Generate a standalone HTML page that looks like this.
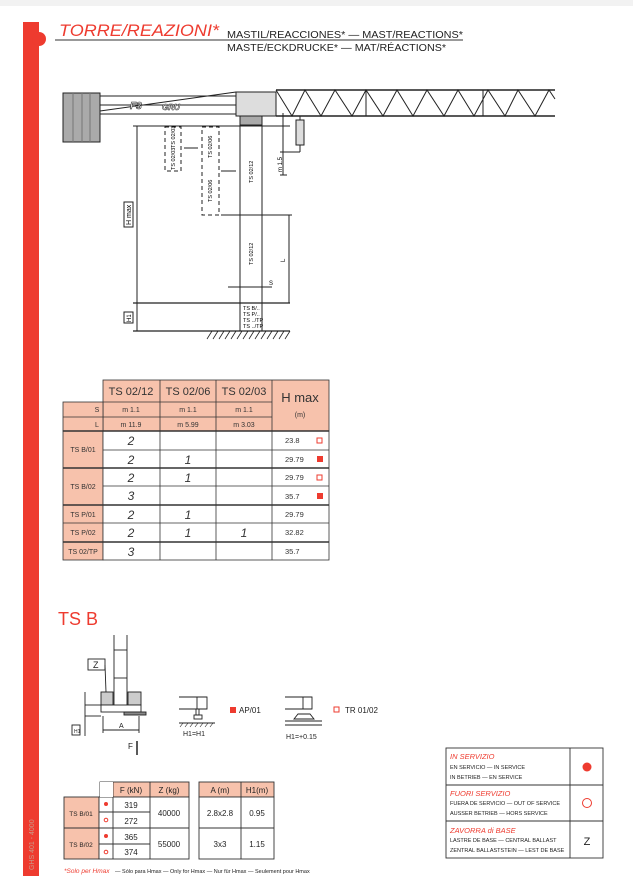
<!DOCTYPE html>
<html><head><meta charset="utf-8"><style>
body{margin:0;background:#fff;}
svg{display:block;font-family:"Liberation Sans",sans-serif;}
</style></head><body>
<svg width="633" height="896" viewBox="0 0 633 896" xmlns="http://www.w3.org/2000/svg">
<rect x="0" y="0" width="633" height="6" fill="#f2f2f2"/>
<!-- red bar -->
<rect x="23" y="22" width="16" height="854" fill="#ee3b2f"/>
<circle cx="39" cy="39" r="7" fill="#ee3b2f"/>
<text x="34" y="870" font-size="7" fill="#c98" transform="rotate(-90 34 870)">GHS 401 - 4000</text>
<!-- title -->
<text x="59" y="36" font-size="17" font-style="italic" fill="#ee3b2f" textLength="160" lengthAdjust="spacingAndGlyphs">TORRE/REAZIONI*</text>
<text x="227" y="38" font-size="10" fill="#222" textLength="236" lengthAdjust="spacingAndGlyphs">MASTIL/REACCIONES*  —  MAST/REACTIONS*</text>
<line x1="55" y1="40" x2="463" y2="40" stroke="#333" stroke-width="1"/>
<text x="227" y="51" font-size="10" fill="#222" textLength="219" lengthAdjust="spacingAndGlyphs">MASTE/ECKDRUCKE*  —  MAT/RÉACTIONS*</text>

<!-- crane -->
<g stroke="#222" fill="none" stroke-width="1">
<rect x="63" y="93" width="37" height="49" fill="#aaa"/>
<line x1="73" y1="93" x2="73" y2="142" stroke="#777"/><line x1="82" y1="93" x2="82" y2="142" stroke="#777"/><line x1="90" y1="93" x2="90" y2="142" stroke="#777"/>
<rect x="100" y="96" width="136" height="18"/>
<line x1="100" y1="105" x2="236" y2="105"/>
<line x1="100" y1="111" x2="236" y2="92"/>
<rect x="236" y="92" width="40" height="24" fill="#ddd"/>
<line x1="276" y1="90" x2="555" y2="90" stroke-width="1.5"/>
<line x1="276" y1="116" x2="555" y2="116" stroke-width="1.5"/>
<polyline points="276,90 292,116 305,90 321,116 335,90 352,116 366,90 383,116 397,90 413,116 427,90 444,116 458,90 474,116 488,90 505,116 518,90 535,116 549,90 555,99"/>
<line x1="366" y1="90" x2="366" y2="116"/><line x1="483" y1="90" x2="483" y2="116"/>
<rect x="240" y="116" width="22" height="9" fill="#aaa"/>
</g>
<text x="130" y="109" font-size="10" font-style="italic" font-weight="bold" fill="#fff" stroke="#222" stroke-width="0.6">F3</text>
<text x="162" y="110" font-size="8" font-style="italic" font-weight="bold" fill="#fff" stroke="#222" stroke-width="0.5">GRU</text>
<!-- hook -->
<g stroke="#222" fill="none">
<line x1="300" y1="116" x2="300" y2="120"/>
<rect x="296" y="120" width="8" height="25" fill="#ddd"/>
<line x1="300" y1="145" x2="300" y2="152"/>
<line x1="280" y1="152" x2="300" y2="152"/>
<line x1="283" y1="113" x2="283" y2="175"/>
<line x1="280" y1="175" x2="287" y2="175"/>
</g>
<text x="282" y="172" font-size="6" transform="rotate(-90 282 172)">m 1.5</text>
<!-- mast -->
<g stroke="#222" fill="none" stroke-width="1">
<line x1="240" y1="125" x2="240" y2="331"/>
<line x1="262" y1="125" x2="262" y2="331"/>
<line x1="133" y1="126" x2="290" y2="126"/>
<line x1="137" y1="126" x2="137" y2="303"/>
<line x1="133" y1="303" x2="290" y2="303" stroke-width="1.2"/>
<line x1="137" y1="303" x2="137" y2="331"/>
<line x1="133" y1="331" x2="290" y2="331" stroke-width="1.2"/>
<line x1="221" y1="215" x2="292" y2="215"/>
<line x1="289" y1="215" x2="289" y2="303"/>
<line x1="228" y1="287" x2="272" y2="287"/>
<g stroke-dasharray="4,3">
<rect x="165" y="127" width="16" height="44"/>
<rect x="202" y="127" width="17" height="88"/>
<line x1="240" y1="303" x2="240" y2="331"/>
<line x1="262" y1="303" x2="262" y2="331"/>
</g>
<line x1="184" y1="148" x2="198" y2="148"/>
<line x1="221" y1="171" x2="236" y2="171"/>
</g>
<g stroke="#222" stroke-width="0.8">
<line x1="205" y1="331" x2="290" y2="331"/>
<path d="M207 339l5-8M213 339l5-8M219 339l5-8M225 339l5-8M231 339l5-8M237 339l5-8M243 339l5-8M249 339l5-8M255 339l5-8M261 339l5-8M267 339l5-8M273 339l5-8M279 339l5-8M285 339l5-8"/>
</g>
<rect x="124" y="202" width="9" height="25" fill="#fff" stroke="#222"/>
<text x="131" y="225" font-size="7" transform="rotate(-90 131 225)">H max</text>
<rect x="124" y="312" width="9" height="11" fill="#fff" stroke="#222"/>
<text x="131" y="322" font-size="6" transform="rotate(-90 131 322)">H1</text>
<g font-size="5.5">
<text x="175" y="170" transform="rotate(-90 175 170)">TS 02/03</text>
<text x="175" y="148" transform="rotate(-90 175 148)">TS 02/03</text>
<text x="212" y="158" transform="rotate(-90 212 158)">TS 02/06</text>
<text x="212" y="202" transform="rotate(-90 212 202)">TS 02/06</text>
<text x="253" y="183" transform="rotate(-90 253 183)">TS 02/12</text>
<text x="253" y="265" transform="rotate(-90 253 265)">TS 02/12</text>
<text x="243" y="310">TS B/..</text><text x="243" y="316">TS P/..</text><text x="243" y="322">TS ../TP</text><text x="243" y="328">TS ../TP</text>
</g>
<text x="285" y="262" font-size="6" transform="rotate(-90 285 262)">L</text>
<text x="269" y="285" font-size="6">S</text>

<!-- main table -->
<g stroke="#333" stroke-width="0.8">
<rect x="103" y="380" width="226" height="51" fill="#f7c2ac"/>
<rect x="63" y="402" width="40" height="29" fill="#f7c2ac"/>
<rect x="63" y="431" width="40" height="129" fill="#f7c2ac"/>
<rect x="103" y="431" width="226" height="129" fill="#fff"/>
<line x1="160" y1="380" x2="160" y2="560"/><line x1="216" y1="380" x2="216" y2="560"/><line x1="272" y1="380" x2="272" y2="560"/>
<line x1="63" y1="417" x2="272" y2="417"/><line x1="103" y1="402" x2="272" y2="402"/>
<line x1="103" y1="450" x2="329" y2="450"/><line x1="103" y1="486" x2="329" y2="486"/><line x1="63" y1="523" x2="329" y2="523"/>
<line x1="63" y1="468" x2="329" y2="468" stroke-width="1.6"/>
<line x1="63" y1="505" x2="329" y2="505" stroke-width="1.6"/>
<line x1="63" y1="542" x2="329" y2="542" stroke-width="1.6"/>
<line x1="63" y1="431" x2="329" y2="431" stroke-width="1.6"/>
</g>
<g font-size="11" fill="#333" text-anchor="middle">
<text x="131" y="395">TS 02/12</text><text x="188" y="395">TS 02/06</text><text x="244" y="395">TS 02/03</text>
<text x="300" y="402" font-size="13">H max</text><text x="300" y="417" font-size="7">(m)</text>
</g>
<g font-size="7" fill="#333" text-anchor="middle">
<text x="97" y="412">S</text><text x="97" y="427">L</text>
<text x="131" y="412">m 1.1</text><text x="188" y="412">m 1.1</text><text x="244" y="412">m 1.1</text>
<text x="131" y="427">m 11.9</text><text x="188" y="427">m 5.99</text><text x="244" y="427">m 3.03</text>
<text x="83" y="452">TS B/01</text><text x="83" y="489">TS B/02</text><text x="83" y="517">TS P/01</text><text x="83" y="535">TS P/02</text><text x="83" y="554">TS 02/TP</text>
</g>
<g font-size="12" font-style="italic" fill="#333" text-anchor="middle">
<text x="131" y="445">2</text><text x="131" y="464">2</text><text x="188" y="464">1</text>
<text x="131" y="482">2</text><text x="188" y="482">1</text><text x="131" y="500">3</text>
<text x="131" y="519">2</text><text x="188" y="519">1</text>
<text x="131" y="537">2</text><text x="188" y="537">1</text><text x="244" y="537">1</text>
<text x="131" y="556">3</text>
</g>
<g font-size="7.5" fill="#333">
<text x="285" y="443">23.8</text><text x="285" y="462">29.79</text><text x="285" y="480">29.79</text><text x="285" y="499">35.7</text>
<text x="285" y="517">29.79</text><text x="285" y="535">32.82</text><text x="285" y="554">35.7</text>
</g>
<rect x="317" y="438" width="5" height="5" fill="#fff" stroke="#ee3b2f"/>
<rect x="317" y="456" width="6" height="6" fill="#ee3b2f"/>
<rect x="317" y="475" width="5" height="5" fill="#fff" stroke="#ee3b2f"/>
<rect x="317" y="493" width="6" height="6" fill="#ee3b2f"/>

<!-- TS B -->
<text x="58" y="625" font-size="18" fill="#ee3b2f">TS B</text>
<g stroke="#222" fill="none" stroke-width="0.9">
<line x1="114" y1="635" x2="114" y2="705"/><line x1="127" y1="635" x2="127" y2="705"/>
<line x1="114" y1="650" x2="127" y2="650"/><line x1="114" y1="678" x2="127" y2="678"/>
<rect x="88" y="659" width="17" height="11" fill="#fff"/>
<line x1="105" y1="665" x2="106" y2="692"/>
<rect x="101" y="692" width="12" height="13" fill="#ccc"/>
<rect x="128" y="692" width="13" height="13" fill="#ccc"/>
<rect x="101" y="705" width="40" height="7" fill="#fff"/>
<rect x="124" y="712" width="22" height="3" fill="#888"/>
<line x1="85" y1="705" x2="101" y2="705"/><line x1="85" y1="716" x2="101" y2="716"/>
<line x1="85" y1="692" x2="85" y2="736"/>
<line x1="103" y1="716" x2="103" y2="733"/><line x1="139" y1="716" x2="139" y2="733"/>
<line x1="103" y1="730" x2="139" y2="730"/>
<line x1="137" y1="741" x2="137" y2="755" stroke-width="1.5"/>
<rect x="72" y="725" width="8" height="10" fill="#fff"/>
<line x1="179" y1="697" x2="207" y2="697"/><line x1="179" y1="709" x2="207" y2="709"/>
<rect x="197" y="697" width="10" height="12"/>
<rect x="196" y="709" width="3" height="6"/><rect x="194" y="715" width="8" height="4"/>
<line x1="179" y1="723" x2="215" y2="723"/>
<path d="M180 727l3-4M185 727l3-4M190 727l3-4M195 727l3-4M200 727l3-4M205 727l3-4M210 727l3-4" stroke-width="0.6"/>
<line x1="285" y1="697" x2="312" y2="697"/><line x1="285" y1="709" x2="312" y2="709"/>
<rect x="303" y="697" width="9" height="12"/>
<path d="M294 719 l4-5 h12 l4 5 z"/>
<line x1="285" y1="721" x2="322" y2="721"/><line x1="285" y1="725" x2="322" y2="725"/>
</g>
<g font-size="7" fill="#222">
<text x="93" y="668" font-size="9">Z</text>
<text x="119" y="728">A</text>
<text x="128" y="749" font-size="8">F</text>
<text x="74" y="733" font-size="5">H1</text>
<text x="183" y="736">H1=H1</text>
<text x="286" y="739">H1=+0.15</text>
</g>
<rect x="230" y="707" width="6" height="6" fill="#ee3b2f"/>
<text x="239" y="713" font-size="8" fill="#222">AP/01</text>
<rect x="334" y="707" width="5" height="5" fill="#fff" stroke="#ee3b2f"/>
<text x="345" y="713" font-size="8" fill="#222">TR 01/02</text>

<!-- legend -->
<g stroke="#333" stroke-width="0.9" fill="none">
<rect x="446" y="748" width="157" height="110"/>
<line x1="570" y1="748" x2="570" y2="858"/>
<line x1="446" y1="785" x2="603" y2="785"/>
<line x1="446" y1="821" x2="603" y2="821"/>
</g>
<g font-size="5.5" fill="#222">
<text x="450" y="759" font-size="7.5" fill="#ee3b2f" font-style="italic">IN SERVIZIO</text>
<text x="450" y="769">EN SERVICIO — IN SERVICE</text><text x="450" y="779">IN BETRIEB — EN SERVICE</text>
<text x="450" y="796" font-size="7.5" fill="#ee3b2f" font-style="italic">FUORI SERVIZIO</text>
<text x="450" y="805">FUERA DE SERVICIO — OUT OF SERVICE</text><text x="450" y="815">AUSSER BETRIEB — HORS SERVICE</text>
<text x="450" y="833" font-size="7.5" fill="#ee3b2f" font-style="italic">ZAVORRA di BASE</text>
<text x="450" y="842">LASTRE DE BASE — CENTRAL BALLAST</text><text x="450" y="852">ZENTRAL BALLASTSTEIN — LEST DE BASE</text>
</g>
<circle cx="587" cy="767" r="4.5" fill="#ee3b2f"/>
<circle cx="587" cy="803" r="4.5" fill="#fff" stroke="#ee3b2f"/>
<text x="587" y="845" font-size="11" text-anchor="middle" fill="#222">Z</text>

<!-- bottom tables -->
<g stroke="#333" stroke-width="0.9">
<rect x="100" y="782" width="89" height="15" fill="#f7c2ac"/>
<rect x="64" y="797" width="35" height="62" fill="#f7c2ac"/>
<rect x="99" y="797" width="90" height="62" fill="#fff"/>
<line x1="113" y1="782" x2="113" y2="859"/><line x1="150" y1="782" x2="150" y2="859"/>
<line x1="99" y1="812" x2="150" y2="812"/><line x1="99" y1="844" x2="150" y2="844"/>
<line x1="64" y1="828" x2="189" y2="828"/>
<rect x="199" y="782" width="75" height="15" fill="#f7c2ac"/>
<rect x="199" y="797" width="75" height="62" fill="#fff"/>
<line x1="241" y1="782" x2="241" y2="859"/><line x1="199" y1="828" x2="274" y2="828"/>
</g>
<rect x="100" y="782" width="13" height="15" fill="#fff"/>
<g font-size="8" fill="#222" text-anchor="middle">
<text x="131" y="793">F (kN)</text><text x="169" y="793">Z (kg)</text><text x="220" y="793">A (m)</text><text x="257" y="793">H1(m)</text>
<text x="131" y="808">319</text><text x="131" y="824">272</text><text x="131" y="840">365</text><text x="131" y="855">374</text>
<text x="169" y="816">40000</text><text x="169" y="847">55000</text>
<text x="220" y="816">2.8x2.8</text><text x="257" y="816">0.95</text>
<text x="220" y="847">3x3</text><text x="257" y="847">1.15</text>
<text x="81" y="816" font-size="6.5">TS B/01</text><text x="81" y="847" font-size="6.5">TS B/02</text>
</g>
<circle cx="106" cy="804" r="2" fill="#ee3b2f"/><circle cx="106" cy="820" r="1.8" fill="#fff" stroke="#ee3b2f"/>
<circle cx="106" cy="836" r="2" fill="#ee3b2f"/><circle cx="106" cy="852" r="1.8" fill="#fff" stroke="#ee3b2f"/>
<text x="64" y="873" font-size="6.5" fill="#ee3b2f" font-style="italic">*Solo per Hmax</text>
<text x="115" y="873" font-size="5.5" fill="#222">—  Sólo para Hmax  —  Only for Hmax  —  Nur für Hmax   —  Seulement pour Hmax</text>
</svg>
</body></html>
